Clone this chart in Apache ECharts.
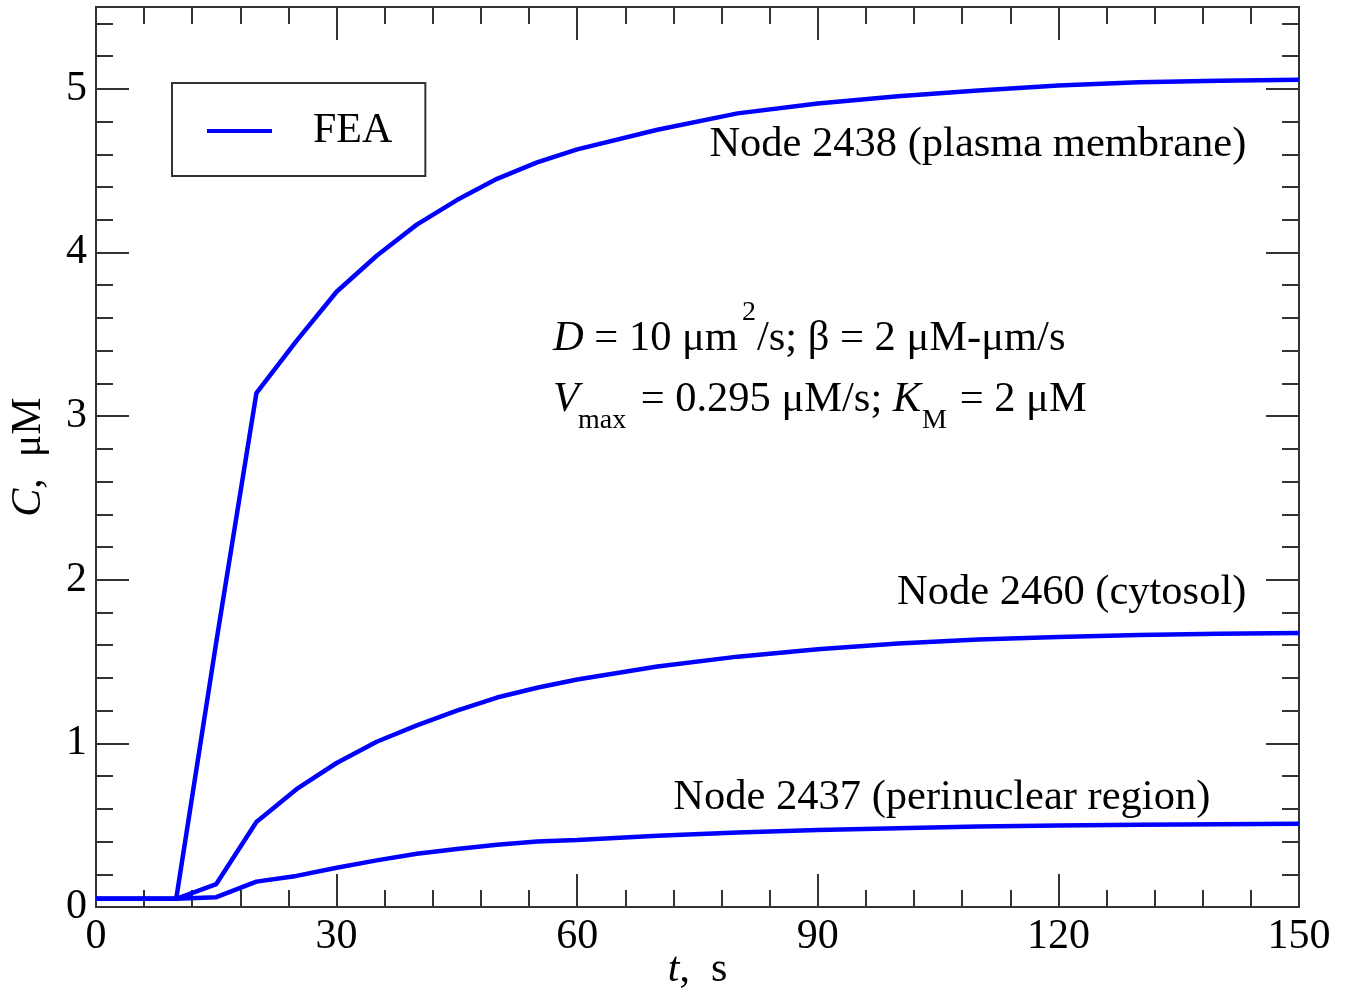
<!DOCTYPE html>
<html>
<head>
<meta charset="utf-8">
<script src="https://cdn.jsdelivr.net/npm/echarts@6/dist/echarts.min.js"></script>
<style>
    html, body { margin: 0; padding: 0; background: #fff; }
    #chart { width: 1353px; height: 996px; }
</style>
</head>
<body>
<div id="chart"></div>
<script>
    // time points, s
    const times = [0, 5, 10, 15, 20, 25, 30, 35, 40, 45, 50, 55, 60, 70, 80, 90, 100, 110, 120, 130, 140, 150];
    // concentration C, uM
    const plasmaMembrane = [0.05, 0.05, 0.05, 1.62, 3.14, 3.46, 3.76, 3.98, 4.17, 4.32, 4.45, 4.55, 4.63, 4.75, 4.85, 4.91, 4.955, 4.99, 5.02, 5.04, 5.05, 5.055];
    const cytosol = [0.05, 0.05, 0.05, 0.14, 0.52, 0.72, 0.88, 1.01, 1.11, 1.20, 1.28, 1.34, 1.39, 1.47, 1.53, 1.575, 1.61, 1.635, 1.65, 1.662, 1.67, 1.675];
    const perinuclear = [0.05, 0.05, 0.05, 0.06, 0.155, 0.19, 0.24, 0.285, 0.325, 0.355, 0.38, 0.40, 0.41, 0.435, 0.455, 0.47, 0.482, 0.492, 0.498, 0.503, 0.506, 0.508];

    const seriesName = "FEA";
    const nodeLabels = [
        "Node 2438 (plasma membrane)",
        "Node 2460 (cytosol)",
        "Node 2437 (perinuclear region)"
    ];

    const font = "Liberation Serif";
    const axisColor = "#333";
    const blue = "#0000ff";

    function pairs(vals) {
        return times.map((t, i) => [t, vals[i]]);
    }

    function tickAxis(extra) {
        return Object.assign({
            type: "value",
            axisLine: { show: true, onZero: false, lineStyle: { color: axisColor, width: 2 } },
            axisTick: { show: true, inside: true, length: 33, lineStyle: { color: axisColor, width: 2 } },
            splitLine: { show: false },
            axisLabel: { show: false }
        }, extra);
    }

    const labelStyle = { fontSize: 42, fontFamily: font, color: "#000" };

    // invisible point carrying the node label, label's right edge on the point
    function nodeMark(text, coord) {
        return {
            symbol: "circle",
            symbolSize: 1,
            silent: true,
            itemStyle: { color: "rgba(0,0,0,0)" },
            label: Object.assign({ show: true, position: "left", distance: 0, formatter: text }, labelStyle, { fontSize: 42.5 }),
            data: [{ coord: coord }]
        };
    }

    function lineSeries(vals, mark) {
        return {
            name: seriesName,
            type: "line",
            xAxisIndex: 0,
            yAxisIndex: 0,
            showSymbol: false,
            data: pairs(vals),
            lineStyle: { color: blue, width: 4.5 },
            itemStyle: { color: blue },
            markPoint: mark
        };
    }

    const chart = echarts.init(document.getElementById("chart"));

    const option = {
        animation: false,
        backgroundColor: "#fff",
        grid: { left: 96, right: 54, top: 7, bottom: 89, containLabel: false, outerBoundsMode: "none" },
        legend: {
            data: [seriesName],
            left: 172,
            top: 83,
            icon: "rect",
            itemWidth: 65,
            itemHeight: 4,
            padding: [26, 33, 23, 35],
            borderColor: axisColor,
            borderWidth: 2,
            selectedMode: false,
            itemStyle: { color: blue },
            textStyle: { fontSize: 42, fontFamily: font, color: "#000", lineHeight: 44, padding: [0, 0, 0, 36] }
        },
        xAxis: [
            tickAxis({
                position: "bottom",
                min: 0, max: 150, interval: 30,
                minorTick: { show: true, splitNumber: 5, length: 17, lineStyle: { color: axisColor, width: 2 } },
                axisLabel: Object.assign({ show: true, margin: 9 }, labelStyle),
                name: "{i|t},  s",
                nameLocation: "middle",
                nameGap: 42,
                nameMoveOverlap: false,
                nameTextStyle: Object.assign({
                    rich: { i: { fontStyle: "italic", fontSize: 42, fontFamily: font, color: "#000" } }
                }, labelStyle)
            }),
            tickAxis({
                position: "top",
                min: 0, max: 150, interval: 30,
                minorTick: { show: true, splitNumber: 5, length: 17, lineStyle: { color: axisColor, width: 2 } }
            })
        ],
        yAxis: [
            tickAxis({
                position: "left",
                min: 0, max: 5.5, interval: 1,
                axisLabel: Object.assign({ show: true, margin: 9, showMaxLabel: false }, labelStyle),
                name: "{i|C},  μM",
                nameLocation: "middle",
                nameGap: 46,
                nameTextStyle: Object.assign({
                    rich: { i: { fontStyle: "italic", fontSize: 42, fontFamily: font, color: "#000" } }
                }, labelStyle)
            }),
            // minor ticks every 0.2
            tickAxis({
                position: "left",
                min: 0, max: 5.5, interval: 0.2,
                axisTick: { show: true, inside: true, length: 17, lineStyle: { color: axisColor, width: 2 } }
            }),
            tickAxis({
                position: "right",
                min: 0, max: 5.5, interval: 1
            }),
            tickAxis({
                position: "right",
                min: 0, max: 5.5, interval: 0.2,
                axisTick: { show: true, inside: true, length: 17, lineStyle: { color: axisColor, width: 2 } }
            })
        ],
        graphic: [
            {
                type: "text", x: 553, y: 339,
                style: {
                    text: "{i|D} = 10 μm", fontSize: 42.5, fontFamily: font, fill: "#000",
                    verticalAlign: "middle",
                    rich: { i: { fontStyle: "italic", fontSize: 42.5, fontFamily: font } }
                }
            },
            {
                type: "text", x: 742, y: 313,
                style: { text: "2", fontSize: 28, fontFamily: font, fill: "#000", verticalAlign: "middle" }
            },
            {
                type: "text", x: 757, y: 339,
                style: { text: "/s; β = 2 μM-μm/s", fontSize: 42.5, fontFamily: font, fill: "#000", verticalAlign: "middle" }
            },
            {
                type: "text", x: 553, y: 400,
                style: {
                    text: "{i|V}", fontSize: 42.5, fontFamily: font, fill: "#000",
                    verticalAlign: "middle",
                    rich: { i: { fontStyle: "italic", fontSize: 42.5, fontFamily: font } }
                }
            },
            {
                type: "text", x: 578, y: 421,
                style: { text: "max", fontSize: 28, fontFamily: font, fill: "#000", verticalAlign: "middle" }
            },
            {
                type: "text", x: 630, y: 400,
                style: {
                    text: " = 0.295 μM/s; {i|K}", fontSize: 42.5, fontFamily: font, fill: "#000",
                    verticalAlign: "middle",
                    rich: { i: { fontStyle: "italic", fontSize: 42.5, fontFamily: font } }
                }
            },
            {
                type: "text", x: 922, y: 421,
                style: { text: "M", fontSize: 28, fontFamily: font, fill: "#000", verticalAlign: "middle" }
            },
            {
                type: "text", x: 949, y: 400,
                style: { text: " = 2 μM", fontSize: 42.5, fontFamily: font, fill: "#000", verticalAlign: "middle" }
            }
        ],
        series: [
            lineSeries(plasmaMembrane, nodeMark(nodeLabels[0], [143.5, 4.66])),
            lineSeries(cytosol, nodeMark(nodeLabels[1], [143.5, 1.92])),
            lineSeries(perinuclear, nodeMark(nodeLabels[2], [139, 0.67]))
        ]
    };

    chart.setOption(option);
</script>
</body>
</html>
